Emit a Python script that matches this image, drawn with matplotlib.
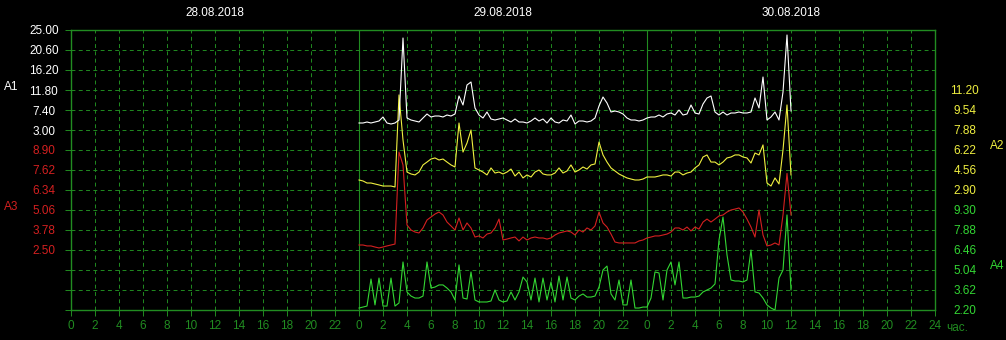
import numpy as np
import matplotlib
matplotlib.use('Agg')
import matplotlib.pyplot as plt

# samples every 20 min, starting 29.08.2018 00:00
a1 = [4.54, 4.54, 4.76, 4.54, 4.76, 4.98, 5.86, 4.54, 4.32, 4.54, 5.2, 23.24, 5.64, 5.2, 4.98, 4.76,
      5.64, 6.52, 5.86, 6.08, 6.08, 5.86, 6.3, 6.08, 6.52, 10.48, 8.5, 12.9, 13.56, 7.84, 6.3, 5.64,
      6.96, 5.42, 5.2, 5.42, 5.64, 5.2, 4.76, 5.42, 4.76, 4.76, 4.54, 4.98, 5.64, 4.98, 5.42, 4.54,
      5.64, 4.76, 4.54, 5.2, 4.98, 6.3, 4.32, 4.98, 4.98, 4.76, 4.98, 5.64, 8.28, 10.26, 8.94, 6.96,
      7.18, 6.96, 6.52, 5.64, 5.2, 5.2, 4.98, 5.2, 5.64, 5.86, 5.86, 6.3, 5.86, 6.52, 6.74, 6.3,
      7.4, 6.3, 6.52, 8.5, 6.74, 6.52, 8.72, 10.04, 10.48, 6.96, 6.3, 6.96, 6.3, 6.74, 6.74, 6.96,
      6.74, 6.74, 6.96, 10.04, 7.84, 14.66, 5.2, 5.86, 6.96, 5.2, 11.36, 23.9, 7.18]
a2 = [3.73, 3.65, 3.48, 3.48, 3.40, 3.32, 3.23, 3.23, 3.23, 3.15, 10.79, 7.05, 4.39, 4.23, 4.15, 4.39,
      4.98, 5.22, 5.47, 5.56, 5.39, 5.47, 5.22, 4.98, 4.81, 8.46, 6.05, 6.80, 7.88, 4.73, 4.56, 4.39,
      4.15, 4.73, 4.31, 4.39, 4.23, 4.39, 4.64, 4.06, 4.39, 3.90, 4.15, 3.98, 4.39, 4.56, 4.23, 4.15,
      4.15, 4.31, 4.73, 4.31, 4.48, 4.98, 4.39, 4.56, 4.81, 4.64, 4.98, 5.06, 6.88, 5.81, 5.22, 4.73,
      4.48, 4.23, 4.06, 3.90, 3.81, 3.73, 3.73, 3.81, 3.98, 3.98, 3.98, 4.06, 4.15, 4.15, 4.06, 4.39,
      4.39, 4.15, 4.31, 4.39, 4.73, 4.98, 5.64, 5.81, 5.22, 5.22, 4.98, 5.22, 5.56, 5.64, 5.81, 5.81,
      5.64, 5.56, 5.14, 5.97, 5.81, 6.64, 3.48, 3.23, 3.90, 3.40, 6.22, 9.96, 4.15]
a3 = [2.82, 2.82, 2.76, 2.76, 2.69, 2.63, 2.69, 2.76, 2.82, 2.88, 8.77, 7.94, 4.10, 3.78, 3.65, 3.59,
      3.91, 4.42, 4.61, 4.80, 4.93, 4.74, 4.29, 4.04, 3.78, 4.55, 3.78, 4.23, 3.91, 3.33, 3.40, 3.27,
      3.52, 3.59, 3.91, 4.48, 3.14, 3.20, 3.27, 3.33, 3.08, 3.33, 3.14, 3.27, 3.33, 3.27, 3.27, 3.20,
      3.27, 3.46, 3.59, 3.65, 3.72, 3.65, 3.46, 3.78, 3.65, 3.91, 3.78, 4.04, 4.93, 4.23, 3.97, 3.52,
      3.01, 2.95, 2.95, 2.95, 2.95, 2.95, 3.08, 3.14, 3.27, 3.33, 3.40, 3.40, 3.46, 3.52, 3.65, 3.91,
      3.91, 3.78, 3.97, 3.72, 3.97, 3.84, 4.29, 4.48, 4.29, 4.48, 4.68, 4.74, 4.93, 5.06, 5.12, 5.19,
      4.93, 4.48, 3.97, 3.33, 5.06, 3.46, 2.76, 2.82, 2.95, 2.82, 4.74, 7.4, 4.74]
a4 = [2.34, 2.41, 2.48, 4.40, 2.56, 4.47, 2.48, 2.48, 4.47, 2.48, 2.70, 5.61, 3.48, 3.19, 3.05, 3.05,
      3.19, 5.61, 3.76, 3.83, 3.98, 3.98, 3.76, 3.48, 2.91, 5.40, 3.05, 2.98, 4.90, 2.91, 2.77, 2.77,
      2.77, 2.84, 3.62, 2.91, 2.77, 2.84, 3.48, 2.91, 3.48, 4.54, 4.19, 2.91, 4.47, 2.77, 4.47, 2.91,
      4.19, 2.77, 4.61, 2.91, 4.54, 3.05, 2.91, 3.19, 3.34, 3.12, 3.12, 3.19, 3.83, 5.04, 5.32, 3.34,
      2.91, 4.33, 2.56, 2.56, 4.33, 2.34, 2.34, 2.41, 2.41, 3.05, 4.90, 4.83, 2.91, 5.04, 5.61, 3.98,
      5.61, 3.05, 3.05, 3.12, 3.12, 3.19, 3.48, 3.62, 3.76, 4.05, 7.17, 8.80, 6.11, 4.33, 4.26, 4.26,
      4.19, 4.33, 6.46, 3.48, 3.41, 3.05, 2.56, 2.34, 2.20, 4.47, 5.04, 8.95, 3.62]

a1_ticks = [3.00, 7.40, 11.80, 16.20, 20.60, 25.00]
a2_ticks = [2.90, 4.56, 6.22, 7.88, 9.54, 11.20]
a3_ticks = [2.50, 3.78, 5.06, 6.34, 7.62, 8.90]
a4_ticks = [2.20, 3.62, 5.04, 6.46, 7.88, 9.30]
dates = ['28.08.2018', '29.08.2018', '30.08.2018']

hours = 24 + np.arange(len(a1)) / 3.0

GRID = '#218c21'
BG = 'black'
plt.rcParams['font.family'] = ['Liberation Sans', 'DejaVu Sans']
plt.rcParams['font.size'] = 8

fig = plt.figure(figsize=(10.06, 3.40), dpi=100, facecolor=BG)
W, H = 1006.0, 340.0
rect = [71 / W, 30 / H, 864 / W, 280 / H]
ax = fig.add_axes(rect)
ax.set_facecolor(BG)
ax.set_xlim(0, 72)
ax.set_ylim(0, 14)

# grid
for h in range(2, 72, 2):
    if h % 24 == 0:
        ax.axvline(h, color=GRID, lw=0.8)
    else:
        ax.axvline(h, color=GRID, lw=0.7, ls=(0, (4, 3.5)))
for r in range(1, 14):
    ax.axhline(r, color=GRID, lw=0.7, ls=(0, (4, 3.5)))
for s in ax.spines.values():
    s.set_color(GRID)
    s.set_linewidth(1.0)

xt = list(range(0, 73, 2))
ax.set_xticks(xt)
ax.set_xticklabels([str(h % 24) if h < 72 else '24' for h in xt])
ax.tick_params(axis='x', colors=GRID, length=4, width=0.7, pad=3, labelsize=8.5)
ax.set_yticks(range(15))
ax.set_yticklabels([])
ax.tick_params(axis='y', colors=GRID, length=4, width=0.7, left=True, right=True)
ax.text(72.9, -0.9, 'час.', color=GRID, fontsize=8.5, ha='left', va='center')

for i, d in enumerate(dates):
    ax.text(12 + 24 * i, 1.06, d, transform=ax.get_xaxis_transform(), color='white',
            ha='center', va='center', fontsize=8.5)

def series_axis(ticks, row0, color, side, values):
    step = ticks[1] - ticks[0]
    t = ax.twinx()
    t.set_ylim(ticks[0] - row0 * step, ticks[-1] + (14 - row0 - 5) * step)
    t.plot(hours, values, color=color, lw=0.8)
    t.set_yticks(ticks)
    t.set_yticklabels(['%.2f' % v for v in ticks])
    for sp in t.spines.values():
        sp.set_visible(False)
    if side == 'left':
        t.yaxis.tick_left()
        t.tick_params(axis='y', length=0, pad=19.5, colors=color, labelsize=8.5)
    else:
        t.tick_params(axis='y', length=0, pad=21.5, colors=color, labelsize=8.5)
    for lbl in t.get_yticklabels():
        lbl.set_horizontalalignment('center')
    t.set_xlim(0, 72)
    return t

series_axis(a4_ticks, 0, '#33d633', 'right', a4)
series_axis(a3_ticks, 3, '#d42020', 'left', a3)
series_axis(a2_ticks, 6, '#f0f040', 'right', a2)
series_axis(a1_ticks, 9, 'white', 'left', a1)

fig.text(11 / W, 1 - 87 / H, 'A1', color='white', ha='center', va='center', fontsize=8.5)
fig.text(11 / W, 1 - 207 / H, 'A3', color='#d42020', ha='center', va='center', fontsize=8.5)
fig.text(997 / W, 1 - 146 / H, 'A2', color='#f0f040', ha='center', va='center', fontsize=8.5)
fig.text(997 / W, 1 - 266 / H, 'A4', color='#33d633', ha='center', va='center', fontsize=8.5)

fig.savefig('out.png', dpi=100, facecolor=BG)
